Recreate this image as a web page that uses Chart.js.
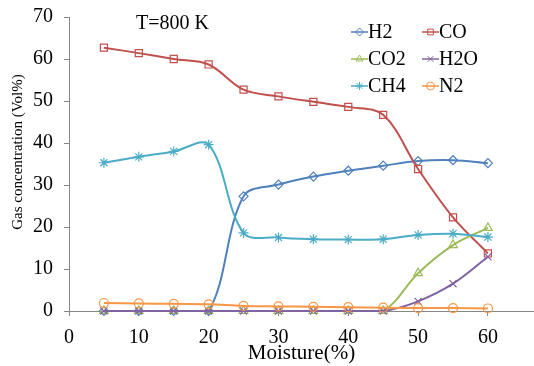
<!DOCTYPE html>
<html>
<head>
<meta charset="utf-8">
<script src="https://cdn.jsdelivr.net/npm/chart.js@4/dist/chart.umd.min.js"></script>
<style>
  html, body { margin: 0; padding: 0; background: #fff; }
  #wrap { width: 534px; height: 366px; }
</style>
</head>
<body>
<div id="wrap"><canvas id="chartCanvas"></canvas></div>
<script>
// moisture content (%) on the x axis
const moisture = [5, 10, 15, 20, 25, 30, 35, 40, 45, 50, 55, 60];

// gas concentrations (Vol%)
const h2  = [0, 0, 0, 0, 27.3, 30.1, 32.0, 33.4, 34.6, 35.7, 35.9, 35.2];
const co  = [62.7, 61.4, 60.0, 58.7, 52.7, 51.1, 49.8, 48.6, 46.7, 33.8, 22.3, 13.7];
const co2 = [0, 0, 0, 0, 0, 0, 0, 0, 0, 9.0, 15.7, 19.8];
const h2o = [0, 0, 0, 0, 0, 0, 0, 0, 0, 2.3, 6.5, 12.9];
const ch4 = [35.3, 36.7, 38.0, 39.6, 18.6, 17.5, 17.1, 17.0, 17.1, 18.1, 18.4, 17.6];
const n2  = [1.9, 1.8, 1.7, 1.6, 1.2, 1.1, 1.0, 0.9, 0.8, 0.7, 0.7, 0.6];

const seriesNames = ["H2", "CO", "CO2", "H2O", "CH4", "N2"];
const xTicks = [0, 10, 20, 30, 40, 50, 60];
const yTicks = [0, 10, 20, 30, 40, 50, 60, 70];

const FONT = "'Liberation Serif', 'Times New Roman', serif";
const colors = ["#4F81BD", "#C0504D", "#9BBB59", "#8064A2", "#4BACC6", "#F79646"];
const markers = ["rectRot", "rect", "triangle", "crossRot", "star", "circle"];
const radii = [4.5, 5, 5, 5, 5, 4.5];

const allSeries = [h2, co, co2, h2o, ch4, n2];

const datasets = allSeries.map((vals, i) => ({
  label: seriesNames[i],
  data: vals.map((v, j) => ({ x: moisture[j], y: v })),
  borderColor: colors[i],
  pointBorderColor: colors[i],
  pointBackgroundColor: "rgba(0,0,0,0)",
  pointStyle: markers[i],
  pointRadius: radii[i],
  pointBorderWidth: 1.2,
  borderWidth: 2,
  tension: 0.35,
  clip: false,
  order: 6 - i   // later series drawn on top, as in the original
}));

// legend in two columns, plus the temperature note and y title
const overlay = {
  id: "overlay",
  afterDraw(chart) {
    const ctx = chart.ctx;
    ctx.save();
    ctx.fillStyle = "#000";
    ctx.textBaseline = "middle";

    ctx.font = "20px " + FONT;
    ctx.textAlign = "left";
    ctx.fillText("T=800 K", 136, 24);

    chart.data.datasets.forEach((ds, i) => {
      const x0 = 351 + (i % 2) * 71;
      const y = 32 + Math.floor(i / 2) * 27;
      ctx.strokeStyle = ds.borderColor;
      ctx.lineWidth = 1.5;
      ctx.beginPath();
      ctx.moveTo(x0, y);
      ctx.lineTo(x0 + 17, y);
      ctx.stroke();
      ctx.lineWidth = 1;
      ctx.fillStyle = "rgba(255,255,255,0)";
      Chart.helpers.drawPoint(ctx, { pointStyle: ds.pointStyle, radius: 4, rotation: 0, borderWidth: 1 }, x0 + 8.5, y);
      ctx.fillStyle = "#000";
      ctx.fillText(ds.label, x0 + 17, y + 1);
    });

    ctx.translate(18, 152);
    ctx.rotate(-Math.PI / 2);
    ctx.textAlign = "center";
    ctx.font = "15px " + FONT;
    ctx.fillText("Gas concentration (Vol%)", 0, 0);
    ctx.restore();
  }
};

const axisGray = "#868686";

new Chart(document.getElementById("chartCanvas").getContext("2d"), {
  type: "line",
  data: { datasets },
  plugins: [overlay],
  options: {
    responsive: true,
    maintainAspectRatio: false,
    animation: false,
    layout: { autoPadding: false, padding: { top: 17, right: 0, bottom: 0, left: 0 } },
    plugins: { legend: { display: false }, tooltip: { enabled: false } },
    scales: {
      x: {
        type: "linear",
        min: 0,
        max: 66.6,
        afterBuildTicks: (scale) => {
          scale.ticks = xTicks.map((v) => ({ value: v }));
        },
        afterFit: (scale) => {
          scale.height = 55;
          scale.paddingLeft = 0;
          scale.paddingRight = 0;
        },
        grid: { drawOnChartArea: false, drawTicks: true, tickLength: 5, color: axisGray },
        border: { color: axisGray, width: 1 },
        ticks: { color: "#000", font: { family: FONT, size: 20 }, padding: 10, maxRotation: 0 },
        title: {
          display: true,
          text: "Moisture(%)",
          color: "#000",
          font: { family: FONT, size: 21 },
          padding: { top: 0, bottom: 0 }
        }
      },
      y: {
        min: 0,
        max: 70,
        afterBuildTicks: (scale) => {
          scale.ticks = yTicks.map((v) => ({ value: v }));
        },
        afterFit: (scale) => {
          scale.width = 69;
          scale.paddingTop = 0;
          scale.paddingBottom = 0;
        },
        grid: { drawOnChartArea: false, drawTicks: true, tickLength: 5, color: axisGray },
        border: { color: axisGray, width: 1 },
        ticks: { color: "#000", font: { family: FONT, size: 20 }, padding: 11 }
      }
    }
  }
});
</script>
</body>
</html>
